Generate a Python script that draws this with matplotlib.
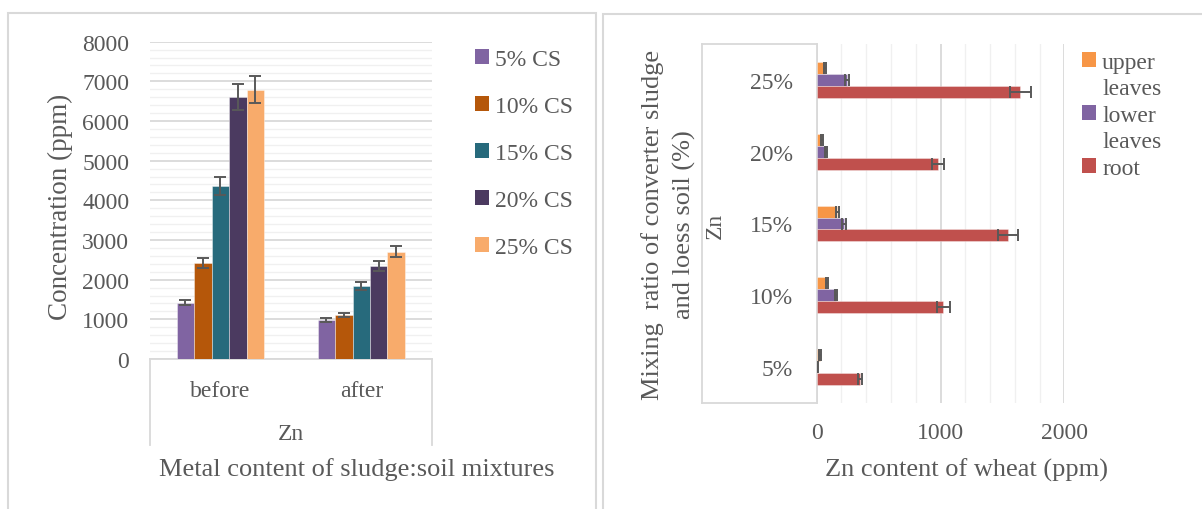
import matplotlib
matplotlib.use("Agg")
import matplotlib.pyplot as plt
import numpy as np
from matplotlib.lines import Line2D
from matplotlib.patches import Rectangle, Patch
from matplotlib.ticker import MultipleLocator

# ---------------- data ----------------
groups = ["before", "after"]
cs_labels = ["5% CS", "10% CS", "15% CS", "20% CS", "25% CS"]
cs5 = [1420, 990]
cs10 = [2420, 1110]
cs15 = [4360, 1840]
cs20 = [6600, 2350]
cs25 = [6790, 2700]
cs5_err = [70, 50]
cs10_err = [120, 60]
cs15_err = [220, 90]
cs20_err = [330, 120]
cs25_err = [335, 140]
cs_colors = ["#8064A2", "#B5570A", "#276A7C", "#4B3A60", "#F8AB6B"]

ratios = ["5%", "10%", "15%", "20%", "25%"]
upper_leaves = [28, 82, 168, 42, 69]
upper_err = [6, 6, 10, 6, 6]
lower_leaves = [5, 155, 222, 74, 244]
lower_err = [3, 10, 15, 6, 15]
root = [351, 1024, 1544, 979, 1644]
root_err = [18, 54, 81, 48, 84]
part_labels = ["upper leaves", "lower leaves", "root"]
part_colors = ["#F79646", "#8064A2", "#C0504D"]

TXT = "#595959"
GRID_MAJ = "#D9D9D9"
GRID_MIN = "#F0F0F0"
FONT = "Liberation Serif"
plt.rcParams["font.family"] = [FONT, "DejaVu Serif"]

W, H = 1202, 510
fig = plt.figure(figsize=(W / 100, H / 100), dpi=100)


def fx(px):
    return px / W


def fy(py):
    return 1 - py / H


def fline(x0, y0, x1, y1, color=GRID_MAJ, lw=1.3):
    fig.add_artist(Line2D([fx(x0), fx(x1)], [fy(y0), fy(y1)],
                          transform=fig.transFigure, color=color, lw=lw))


# panel borders
fig.add_artist(Rectangle((fx(8), fy(520)), fx(596) - fx(8), fy(14) - fy(520),
                         transform=fig.transFigure, fill=False, ec=GRID_MAJ, lw=1.5))
fig.add_artist(Rectangle((fx(603), fy(520)), fx(1215) - fx(603), fy(15) - fy(520),
                         transform=fig.transFigure, fill=False, ec=GRID_MAJ, lw=1.5))

# ---------------- left chart ----------------
L0, L1, T0, B0 = 150, 431.7, 42.7, 360
ax1 = fig.add_axes([fx(L0), fy(B0), fx(L1) - fx(L0), fy(T0) - fy(B0)])
vals = [cs5, cs10, cs15, cs20, cs25]
errs = [cs5_err, cs10_err, cs15_err, cs20_err, cs25_err]
x = np.arange(len(groups))
bw = 0.124
for i, (v, e) in enumerate(zip(vals, errs)):
    ax1.bar(x + (i - 2) * bw, v, bw, yerr=e, color=cs_colors[i], label=cs_labels[i],
            edgecolor=(1, 1, 1, 0.45), linewidth=0.6, zorder=3,
            error_kw=dict(ecolor=TXT, elinewidth=1.4, capsize=4, capthick=1.4, zorder=4))
ax1.set_xlim(-0.5, 1.5)
ax1.set_ylim(0, 8000)
ax1.yaxis.set_major_locator(MultipleLocator(1000))
ax1.yaxis.set_minor_locator(MultipleLocator(200))
ax1.grid(axis="y", which="major", color=GRID_MAJ, lw=1.3, zorder=0)
ax1.grid(axis="y", which="minor", color=GRID_MIN, lw=1.0, zorder=0)
ax1.set_axisbelow(True)
for s in ["left", "right", "top"]:
    ax1.spines[s].set_visible(False)
ax1.spines["bottom"].set_color(GRID_MAJ)
ax1.spines["bottom"].set_linewidth(1.3)
ax1.tick_params(axis="both", which="both", length=0)
ax1.tick_params(axis="y", labelsize=17, labelcolor=TXT, pad=15)
ax1.set_xticks(x)
ax1.set_xticklabels(groups)
ax1.tick_params(axis="x", labelsize=17, labelcolor=TXT, pad=15)
# category box
fline(L0, B0, L0, 446)
fline(L1, B0, L1, 446)
fig.text(fx((L0 + L1) / 2), fy(440), "Zn", ha="center", va="baseline", fontsize=17, color=TXT)
fig.text(fx(357), fy(476.5), "Metal content of sludge:soil mixtures", ha="center",
         va="baseline", fontsize=19, color=TXT)
fig.text(fx(60), fy(206.5), "Concentration (ppm)", rotation=90, ha="center", va="center",
         fontsize=19.5, color=TXT)
handles1 = [Patch(facecolor=c, edgecolor="none") for c in cs_colors]
fig.legend(handles1, cs_labels, loc="upper left", bbox_to_anchor=(fx(475), fy(50)),
           frameon=False, fontsize=17, labelcolor=TXT, handlelength=0.6, handleheight=0.6,
           handletextpad=0.25, labelspacing=1.1, borderaxespad=0, borderpad=0)

# ---------------- right chart ----------------
R0, R1, RT, RB = 816.7, 1064.3, 45, 404
ax2 = fig.add_axes([fx(R0), fy(RB), fx(R1) - fx(R0), fy(RT) - fy(RB)])
y = np.arange(len(ratios))
bh = 0.167
parts = [upper_leaves, lower_leaves, root]
perrs = [upper_err, lower_err, root_err]
offs = [bh, 0, -bh]
for i, (v, e) in enumerate(zip(parts, perrs)):
    ax2.barh(y + offs[i], v, bh, xerr=e, color=part_colors[i], label=part_labels[i],
             edgecolor=(1, 1, 1, 0.4), linewidth=0.6, zorder=3,
             error_kw=dict(ecolor=TXT, elinewidth=1.4, capsize=4.2, capthick=1.4, zorder=4))
ax2.set_xlim(0, 2000)
ax2.set_ylim(-0.5, 4.5)
ax2.xaxis.set_major_locator(MultipleLocator(1000))
ax2.xaxis.set_minor_locator(MultipleLocator(200))
ax2.grid(axis="x", which="major", color=GRID_MAJ, lw=1.3, zorder=0)
ax2.grid(axis="x", which="minor", color=GRID_MIN, lw=1.0, zorder=0)
ax2.set_axisbelow(True)
for s in ["right", "top", "bottom"]:
    ax2.spines[s].set_visible(False)
ax2.spines["left"].set_color(GRID_MAJ)
ax2.spines["left"].set_linewidth(1.3)
ax2.set_yticks(y)
ax2.set_yticklabels(ratios)
ax2.tick_params(axis="both", which="both", length=0)
ax2.tick_params(axis="y", labelsize=17, labelcolor=TXT, pad=17)
ax2.tick_params(axis="x", labelsize=17, labelcolor=TXT, pad=14)
# category box
fline(701.7, RT, R0, RT)
fline(701.7, RB, R0, RB)
fline(701.7, RT, 701.7, RB)
fig.text(fx(715), fy(226), "Zn", rotation=90, ha="center", va="center", fontsize=17, color=TXT)
fig.text(fx(668.5), fy(225), "Mixing  ratio of converter sludge\nand loess soil (%)", rotation=90,
         ha="center", va="center", multialignment="center", linespacing=1.45,
         fontsize=19, color=TXT)
fig.text(fx(967), fy(477), "Zn content of wheat (ppm)", ha="center", va="baseline",
         fontsize=19, color=TXT)
handles2 = [Patch(facecolor=part_colors[0], edgecolor="none"),
            Patch(facecolor="none", edgecolor="none"),
            Patch(facecolor=part_colors[1], edgecolor="none"),
            Patch(facecolor="none", edgecolor="none"),
            Patch(facecolor=part_colors[2], edgecolor="none")]
labels2 = ["upper", "leaves", "lower", "leaves", "root"]
fig.legend(handles2, labels2, loc="upper left", bbox_to_anchor=(fx(1082), fy(53)),
           frameon=False, fontsize=17, labelcolor=TXT, handlelength=0.6, handleheight=0.6,
           handletextpad=0.25, labelspacing=0.23, borderaxespad=0, borderpad=0)

fig.savefig("out.png", dpi=100)
